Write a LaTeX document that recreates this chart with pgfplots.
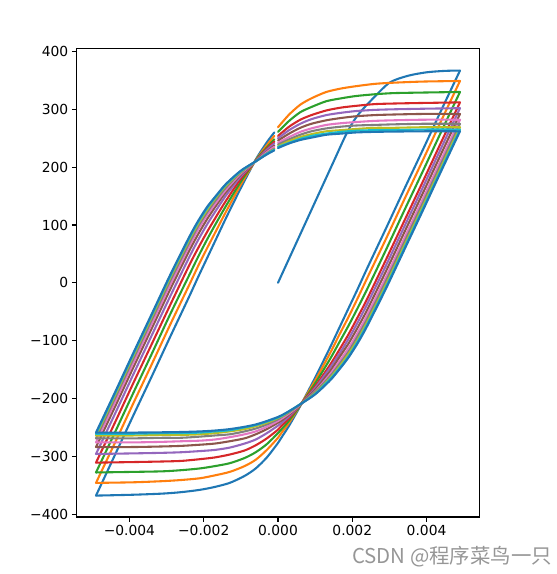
\documentclass[border=0pt]{standalone}
\usepackage{fontspec}
\setmainfont{DejaVu Sans}
\newfontfamily\cjk{Noto Sans CJK SC}
\usepackage{pgfplots}
\pgfplotsset{compat=1.18}
\definecolor{C0}{HTML}{1F77B4}
\definecolor{C1}{HTML}{FF7F0E}
\definecolor{C2}{HTML}{2CA02C}
\definecolor{C3}{HTML}{D62728}
\definecolor{C4}{HTML}{9467BD}
\definecolor{C5}{HTML}{8C564B}
\definecolor{C6}{HTML}{E377C2}
\definecolor{C7}{HTML}{7F7F7F}
\definecolor{C8}{HTML}{BCBD22}
\definecolor{C9}{HTML}{17BECF}
\definecolor{wm}{RGB}{150,150,150}
\begin{document}
\begin{tikzpicture}
\path[use as bounding box] (0bp,0bp) rectangle (557bp,574bp);
\begin{axis}[
  at={(76.7bp,57bp)}, anchor=south west,
  scale only axis, width=402.6bp, height=468.4bp,
  xmin=-0.00542, xmax=0.00542, ymin=-405, ymax=405,
  xtick={-0.004,-0.002,0,0.002,0.004},
  xticklabels={−0.004,−0.002,0.000,0.002,0.004},
  ytick={-400,-300,-200,-100,0,100,200,300,400},
  yticklabels={−400,−300,−200,−100,0,100,200,300,400},
  scaled x ticks=false, scaled y ticks=false,
  tick align=outside, xtick pos=bottom, ytick pos=left,
  major tick length=4.9bp,
  every tick/.style={black, line width=1.1bp},
  axis line style={line width=1.1bp},
  tick label style={font=\fontsize{13.9}{16}\selectfont},
  every axis plot/.append style={line width=2.08bp, line join=round, line cap=round, smooth, tension=0.45},
]
% ---------- cycle 1 ----------
\addplot[C0] coordinates {
(0,0) (0.0005,70) (0.001,140) (0.0015,210) (0.0018,252) (0.002,276) (0.0022,294) (0.0025,315) (0.003,346) (0.0035,358) (0.004,364) (0.0045,366.5) (0.0049,367)};
\addplot[C0] coordinates {(0.0049,367)
(0.0044,299) (0.0039,230) (0.0034,162) (0.0029,93) (0.0024,25) (0.00215,-10) (0.0019,-44) (0.00165,-78) (0.0014,-112) (0.001,-164) (0.0006,-213) (0.0003,-247) (0.0001,-267) (0,-277) (-0.0003,-302) (-0.0006,-321) (-0.0009,-334) (-0.0013,-346) (-0.0017,-353) (-0.0021,-358) (-0.0026,-362) (-0.0031,-364.5) (-0.0039,-366.5) (-0.0049,-368)};
\addplot[C0] coordinates {(-0.0049,-368)
(-0.0044,-299) (-0.0039,-230) (-0.0034,-162) (-0.0029,-93) (-0.0024,-25) (-0.00215,10) (-0.0019,44) (-0.00165,78) (-0.0014,112) (-0.001,164) (-0.0006,213) (-0.0003,243) (-0.0001,260)};
% ---------- cycle 2 ----------
\addplot[C1] coordinates {
(0,269) (0.0003,291) (0.0006,308) (0.0009,319) (0.0013,330) (0.0017,336) (0.0021,340) (0.0026,344) (0.0031,346) (0.0039,348) (0.0049,349)};
\addplot[C1] coordinates {(0.0049,349)
(0.0044,281) (0.0039,212) (0.0034,144) (0.0029,75) (0.0024,8) (0.00215,-26) (0.0019,-59) (0.00165,-90) (0.0014,-122) (0.001,-169) (0.0006,-212) (0.0003,-242) (0.0001,-259) (0,-268) (-0.0003,-289) (-0.0006,-306) (-0.0009,-317) (-0.0013,-327) (-0.0017,-333) (-0.0021,-338) (-0.0026,-341) (-0.0031,-343) (-0.0039,-345) (-0.0049,-346)};
\addplot[C1] coordinates {(-0.0049,-346)
(-0.0044,-278) (-0.0039,-209) (-0.0034,-141) (-0.0029,-72) (-0.0024,-5) (-0.00215,29) (-0.0019,61) (-0.00165,92) (-0.0014,123) (-0.001,170) (-0.0006,212) (-0.0003,238) (-0.0001,254)};
% ---------- cycle 3 ----------
\addplot[C2] coordinates {
(0,261) (0.0003,280) (0.0006,295) (0.0009,304) (0.0013,314) (0.0017,319) (0.0021,323) (0.0026,326) (0.0031,328) (0.0039,329) (0.0049,330)};
\addplot[C2] coordinates {(0.0049,330)
(0.0044,262) (0.0039,193) (0.0034,125) (0.0029,56) (0.0024,-11) (0.00215,-43) (0.0019,-74) (0.00165,-103) (0.0014,-132) (0.001,-174) (0.0006,-212) (0.0003,-238) (0.0001,-253) (0,-260) (-0.0003,-279) (-0.0006,-293) (-0.0009,-303) (-0.0013,-312) (-0.0017,-317) (-0.0021,-321) (-0.0026,-324) (-0.0031,-326) (-0.0039,-327) (-0.0049,-328)};
\addplot[C2] coordinates {(-0.0049,-328)
(-0.0044,-260) (-0.0039,-191) (-0.0034,-123) (-0.0029,-54) (-0.0024,12) (-0.00215,45) (-0.0019,76) (-0.00165,105) (-0.0014,133) (-0.001,175) (-0.0006,212) (-0.0003,234) (-0.0001,248)};
% ---------- cycle 4 ----------
\addplot[C3] coordinates {
(0,254) (0.0003,270) (0.0006,282) (0.0009,290) (0.0013,298) (0.0017,303) (0.0021,306) (0.0026,309) (0.0031,310) (0.0039,311) (0.0049,312)};
\addplot[C3] coordinates {(0.0049,312)
(0.0044,244) (0.0039,175) (0.0034,107) (0.0029,39) (0.0024,-28) (0.00215,-59) (0.0019,-89) (0.00165,-116) (0.0014,-142) (0.001,-179) (0.0006,-211) (0.0003,-234) (0.0001,-247) (0,-254) (-0.0003,-269) (-0.0006,-281) (-0.0009,-290) (-0.0013,-297) (-0.0017,-302) (-0.0021,-305) (-0.0026,-308) (-0.0031,-309) (-0.0039,-310) (-0.0049,-311)};
\addplot[C3] coordinates {(-0.0049,-311)
(-0.0044,-243) (-0.0039,-174) (-0.0034,-106) (-0.0029,-38) (-0.0024,29) (-0.00215,60) (-0.0019,89) (-0.00165,116) (-0.0014,142) (-0.001,180) (-0.0006,211) (-0.0003,232) (-0.0001,244)};
% ---------- cycle 5 ----------
\addplot[C4] coordinates {
(0,250) (0.0003,264) (0.0006,275) (0.0009,283) (0.0013,290) (0.0017,294) (0.0021,297) (0.0026,299) (0.0031,300) (0.0039,301) (0.0049,302)};
\addplot[C4] coordinates {(0.0049,302)
(0.0044,234) (0.0039,165) (0.0034,97) (0.0029,29) (0.0024,-37) (0.00215,-68) (0.0019,-97) (0.00165,-123) (0.0014,-147) (0.001,-182) (0.0006,-211) (0.0003,-231) (0.0001,-242) (0,-247) (-0.0003,-260) (-0.0006,-271) (-0.0009,-278) (-0.0013,-285) (-0.0017,-289) (-0.0021,-291) (-0.0026,-293) (-0.0031,-294) (-0.0039,-295) (-0.0049,-296)};
\addplot[C4] coordinates {(-0.0049,-296)
(-0.0044,-228) (-0.0039,-159) (-0.0034,-91) (-0.0029,-23) (-0.0024,43) (-0.00215,74) (-0.0019,102) (-0.00165,127) (-0.0014,151) (-0.001,184) (-0.0006,211) (-0.0003,230) (-0.0001,241)};
% ---------- cycle 6 ----------
\addplot[C5] coordinates {
(0,246) (0.0003,258) (0.0006,268) (0.0009,275) (0.0013,281) (0.0017,285) (0.0021,288) (0.0026,290) (0.0031,291) (0.0039,292) (0.0049,292)};
\addplot[C5] coordinates {(0.0049,292)
(0.0044,224) (0.0039,155) (0.0034,87) (0.0029,19) (0.0024,-47) (0.00215,-77) (0.0019,-105) (0.00165,-129) (0.0014,-153) (0.001,-185) (0.0006,-211) (0.0003,-228) (0.0001,-238) (0,-242) (-0.0003,-253) (-0.0006,-262) (-0.0009,-269) (-0.0013,-274) (-0.0017,-278) (-0.0021,-280) (-0.0026,-282) (-0.0031,-283) (-0.0039,-284) (-0.0049,-284)};
\addplot[C5] coordinates {(-0.0049,-284)
(-0.0044,-216) (-0.0039,-147) (-0.0034,-79) (-0.0029,-11) (-0.0024,54) (-0.00215,84) (-0.0019,111) (-0.00165,135) (-0.0014,157) (-0.001,187) (-0.0006,211) (-0.0003,227) (-0.0001,237)};
% ---------- cycle 7 ----------
\addplot[C6] coordinates {
(0,242) (0.0003,252) (0.0006,261) (0.0009,267) (0.0013,273) (0.0017,276) (0.0021,278) (0.0026,280) (0.0031,281) (0.0039,282) (0.0049,282)};
\addplot[C6] coordinates {(0.0049,282)
(0.0044,214) (0.0039,145) (0.0034,77) (0.0029,9) (0.0024,-56) (0.00215,-86) (0.0019,-113) (0.00165,-136) (0.0014,-158) (0.001,-188) (0.0006,-211) (0.0003,-226) (0.0001,-235) (0,-239) (-0.0003,-249) (-0.0006,-257) (-0.0009,-262) (-0.0013,-267) (-0.0017,-271) (-0.0021,-273) (-0.0026,-274) (-0.0031,-275) (-0.0039,-276) (-0.0049,-276)};
\addplot[C6] coordinates {(-0.0049,-276)
(-0.0044,-208) (-0.0039,-139) (-0.0034,-71) (-0.0029,-3) (-0.0024,62) (-0.00215,92) (-0.0019,118) (-0.00165,140) (-0.0014,161) (-0.001,189) (-0.0006,210) (-0.0003,226) (-0.0001,235)};
% ---------- cycle 8 ----------
\addplot[C7] coordinates {
(0,239) (0.0003,248) (0.0006,256) (0.0009,262) (0.0013,267) (0.0017,270) (0.0021,272) (0.0026,273) (0.0031,274) (0.0039,275) (0.0049,275)};
\addplot[C7] coordinates {(0.0049,275)
(0.0044,207) (0.0039,138) (0.0034,70) (0.0029,2) (0.0024,-63) (0.00215,-92) (0.0019,-119) (0.00165,-141) (0.0014,-162) (0.001,-189) (0.0006,-210) (0.0003,-224) (0.0001,-232) (0,-236) (-0.0003,-245) (-0.0006,-252) (-0.0009,-257) (-0.0013,-262) (-0.0017,-264) (-0.0021,-266) (-0.0026,-268) (-0.0031,-268) (-0.0039,-269) (-0.0049,-269)};
\addplot[C7] coordinates {(-0.0049,-269)
(-0.0044,-201) (-0.0039,-132) (-0.0034,-64) (-0.0029,4) (-0.0024,68) (-0.00215,98) (-0.0019,123) (-0.00165,145) (-0.0014,165) (-0.001,191) (-0.0006,210) (-0.0003,224) (-0.0001,232)};
% ---------- cycle 9 ----------
\addplot[C8] coordinates {
(0,236) (0.0003,245) (0.0006,252) (0.0009,257) (0.0013,262) (0.0017,264) (0.0021,266) (0.0026,268) (0.0031,268) (0.0039,269) (0.0049,269)};
\addplot[C8] coordinates {(0.0049,269)
(0.0044,201) (0.0039,132) (0.0034,64) (0.0029,-4) (0.0024,-68) (0.00215,-98) (0.0019,-123) (0.00165,-145) (0.0014,-165) (0.001,-191) (0.0006,-210) (0.0003,-223) (0.0001,-231) (0,-234) (-0.0003,-242) (-0.0006,-248) (-0.0009,-253) (-0.0013,-257) (-0.0017,-260) (-0.0021,-262) (-0.0026,-263) (-0.0031,-263) (-0.0039,-264) (-0.0049,-264)};
\addplot[C8] coordinates {(-0.0049,-264)
(-0.0044,-196) (-0.0039,-127) (-0.0034,-59) (-0.0029,9) (-0.0024,73) (-0.00215,102) (-0.0019,127) (-0.00165,149) (-0.0014,168) (-0.001,192) (-0.0006,210) (-0.0003,223) (-0.0001,231)};
% ---------- cycle 10 ----------
\addplot[C9] coordinates {
(0,235) (0.0003,242) (0.0006,249) (0.0009,254) (0.0013,258) (0.0017,261) (0.0021,263) (0.0026,264) (0.0031,264) (0.0039,265) (0.0049,265)};
\addplot[C9] coordinates {(0.0049,265)
(0.0044,197) (0.0039,128) (0.0034,60) (0.0029,-8) (0.0024,-72) (0.00215,-101) (0.0019,-127) (0.00165,-148) (0.0014,-167) (0.001,-192) (0.0006,-210) (0.0003,-222) (0.0001,-230) (0,-233) (-0.0003,-240) (-0.0006,-246) (-0.0009,-250) (-0.0013,-255) (-0.0017,-257) (-0.0021,-259) (-0.0026,-260) (-0.0031,-260) (-0.0039,-261) (-0.0049,-261)};
\addplot[C9] coordinates {(-0.0049,-261)
(-0.0044,-193) (-0.0039,-124) (-0.0034,-56) (-0.0029,12) (-0.0024,76) (-0.00215,105) (-0.0019,130) (-0.00165,151) (-0.0014,170) (-0.001,193) (-0.0006,210) (-0.0003,223) (-0.0001,230)};
% ---------- cycle 11 ----------
\addplot[C0] coordinates {
(0,233) (0.0003,241) (0.0006,247) (0.0009,251) (0.0013,256) (0.0017,258) (0.0021,260) (0.0026,261) (0.0031,261.5) (0.0039,262) (0.0049,262)};
\addplot[C0] coordinates {(0.0049,262)
(0.0044,194) (0.0039,125) (0.0034,57) (0.0029,-11) (0.0024,-75) (0.00215,-104) (0.0019,-129) (0.00165,-150) (0.0014,-169) (0.001,-193) (0.0006,-210) (0.0003,-222) (0.0001,-229) (0,-232) (-0.0003,-239) (-0.0006,-245) (-0.0009,-249) (-0.0013,-253) (-0.0017,-255.5) (-0.0021,-257) (-0.0026,-258) (-0.0031,-258.5) (-0.0039,-259) (-0.0049,-259)};
\addplot[C0] coordinates {(-0.0049,-259)
(-0.0044,-191) (-0.0039,-122) (-0.0034,-54) (-0.0029,14) (-0.0024,78) (-0.00215,107) (-0.0019,132) (-0.00165,152) (-0.0014,171) (-0.001,194) (-0.0006,210) (-0.0003,222) (-0.0001,229)};
\end{axis}
\node[anchor=base west, inner sep=0pt, text=wm, font=\cjk\fontsize{20.5}{24}\selectfont] at (352bp,11bp) {CSDN @程序菜鸟一只};
\end{tikzpicture}
\end{document}
